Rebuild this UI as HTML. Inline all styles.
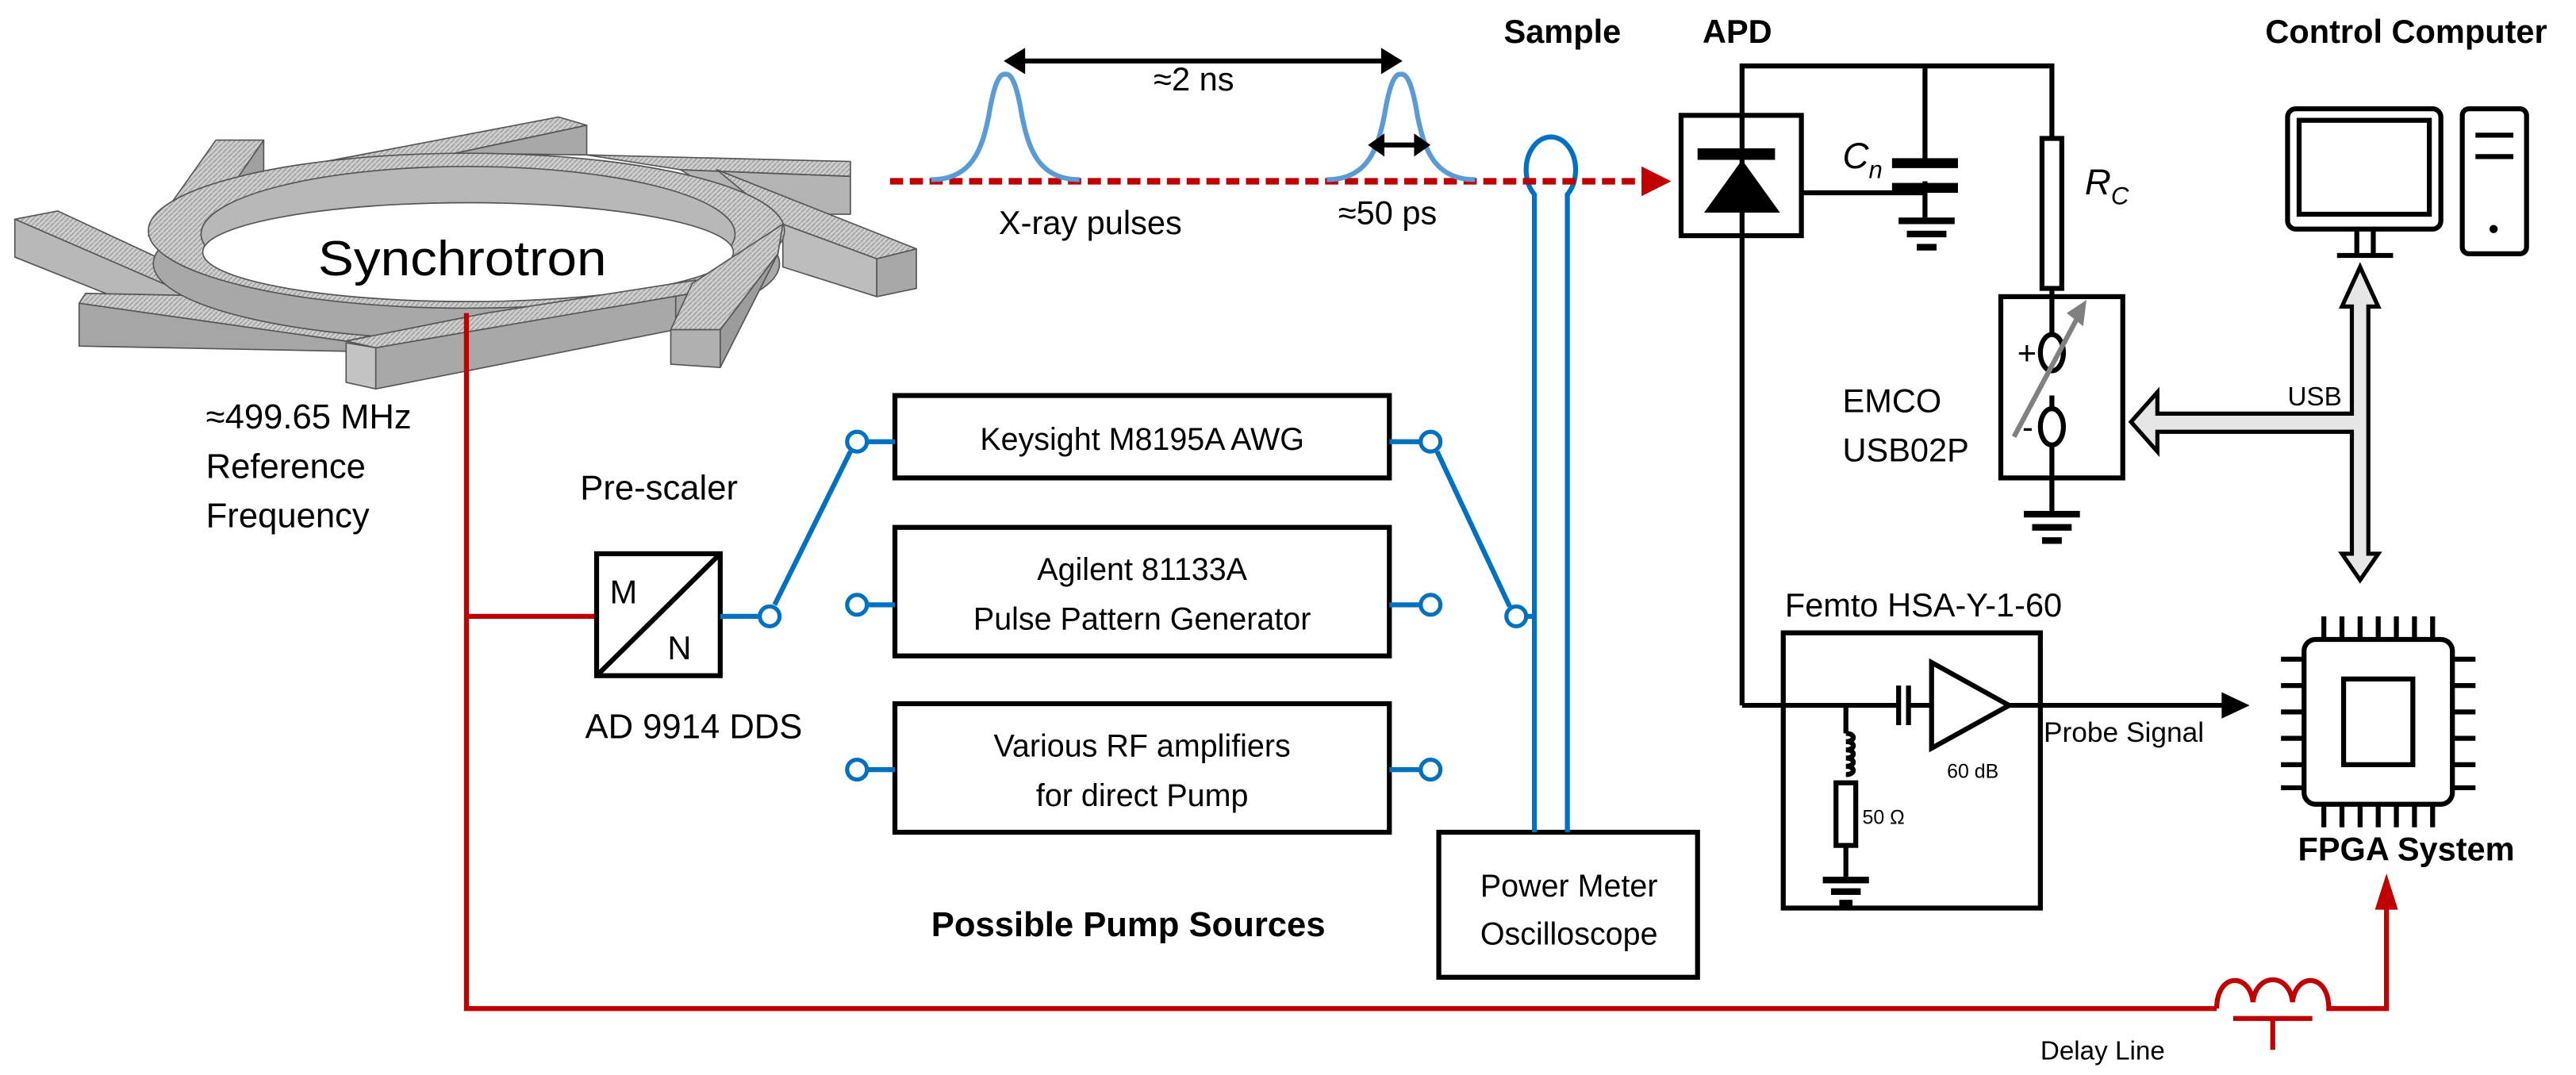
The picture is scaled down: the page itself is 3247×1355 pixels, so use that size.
<!DOCTYPE html>
<html><head><meta charset="utf-8"><style>
html,body{margin:0;padding:0;background:#fff;}
svg{display:block;}
text{font-family:"Liberation Sans",sans-serif;fill:#000;}
</style></head><body>
<svg width="3247" height="1355" viewBox="0 0 1563 652.3" preserveAspectRatio="none" xmlns="http://www.w3.org/2000/svg">
<defs>
<pattern id="hatch" width="3" height="3" patternUnits="userSpaceOnUse"><rect width="3" height="3" fill="#cfcfcf"/><path d="M0 3 L3 0" stroke="#a0a0a0" stroke-width="0.8"/></pattern>
</defs>
<!-- Synchrotron -->
<g stroke="#555" stroke-width="0.8" stroke-linejoin="round">
<!-- arm 2 top -->
<polygon points="356,76 356,94 276,93" fill="#a8a8a8"/>
<polygon points="166,104 339,71 356,76 276,93" fill="url(#hatch)"/>
<!-- arm 3 -->
<polygon points="413,103 516,107 516,130 501,130 435,117" fill="#b4b4b4"/>
<polygon points="356,94 516,98 516,107 413,103" fill="url(#hatch)"/>
<!-- arm 4 -->
<polygon points="475,136 532,157 532,180 475,162" fill="#bdbdbd"/>
<polygon points="532,157 556,151 556,175 532,180" fill="#a8a8a8"/>
<polygon points="435,103 556,151 532,157 475,136" fill="url(#hatch)"/>
<!-- arm 1 -->
<polygon points="160,85 160,107 142,111" fill="#a0a0a0"/>
<polygon points="131,85 160,85 142,111 90,143" fill="url(#hatch)"/>
<!-- arm 8 -->
<polygon points="9,133 9,156 74,182 140,182" fill="#b8b8b8"/>
<polygon points="9,133 35,128 151,182 122,182" fill="url(#hatch)"/>
<!-- arm 7 -->
<polygon points="48,184 255,190 255,214 48,210" fill="#a6a6a6"/>
<polygon points="52,178 150,180 285,191 210,207 48,184" fill="url(#hatch)"/>
<!-- ring -->
<ellipse cx="283" cy="160" rx="190" ry="46" fill="#a8a8a8"/>
<ellipse cx="283" cy="140" rx="193" ry="47" fill="url(#hatch)"/>
<ellipse cx="284" cy="142" rx="162" ry="41" fill="#b8b8b8"/>
<ellipse cx="284" cy="153" rx="161" ry="30" fill="#fff"/>
<!-- arm 6 bottom front -->
<polygon points="228,211 410,176 410,200 228,236" fill="#a8a8a8"/>
<polygon points="210,208 228,211 228,236 210,232" fill="#c4c4c4"/>
<polygon points="210,207 295,190 422,170 420,178 228,211" fill="url(#hatch)"/>
<!-- arm 5 -->
<polygon points="407,200 437,200 437,223 407,221" fill="#b0b0b0"/>
<polygon points="437,200 472,154 437,223" fill="#9c9c9c"/>
<polygon points="420,172 475,136 472,154 437,200 407,200" fill="url(#hatch)"/>
</g>
<text x="193" y="167" font-size="30" textLength="175" lengthAdjust="spacingAndGlyphs">Synchrotron</text>

<!-- red reference line -->
<g stroke="#c00000" stroke-width="3" fill="none">
<polyline points="283,190 283,612 1345,612"/>
<line x1="283" y1="374" x2="362" y2="374"/>
<path d="M1345 612 C1345 590 1365 590 1367 608 C1369 590 1389 590 1391 608 C1393 590 1413 590 1413 612 L1448 612 L1448 548"/>
<line x1="1355" y1="618" x2="1403" y2="618"/>
<line x1="1379" y1="618" x2="1379" y2="637"/>
</g>
<polygon points="1441,552 1455,552 1448,530" fill="#c00000"/>

<!-- labels left -->
<text x="125" y="260" font-size="21">≈499.65 MHz</text>
<text x="125" y="290" font-size="21">Reference</text>
<text x="125" y="320" font-size="21">Frequency</text>
<text x="352" y="303" font-size="21">Pre-scaler</text>
<text x="355" y="448" font-size="21">AD 9914 DDS</text>
<text x="565" y="568" font-size="21" font-weight="bold">Possible Pump Sources</text>
<text x="1238" y="643" font-size="16">Delay Line</text>

<!-- M/N box -->
<g stroke="#000" stroke-width="3" fill="none">
<rect x="362" y="336" width="75" height="74"/>
<line x1="362" y1="410" x2="437" y2="336"/>
</g>
<text x="370" y="366" font-size="20">M</text>
<text x="405" y="400" font-size="20">N</text>

<!-- Pump boxes -->
<g stroke="#000" stroke-width="3" fill="#fff">
<rect x="543" y="240" width="300" height="50"/>
<rect x="543" y="320" width="300" height="78"/>
<rect x="543" y="427" width="300" height="78"/>
<rect x="873" y="505" width="157" height="88"/>
</g>
<text x="693" y="273" font-size="19" text-anchor="middle">Keysight M8195A AWG</text>
<text x="693" y="352" font-size="19" text-anchor="middle">Agilent 81133A</text>
<text x="693" y="382" font-size="19" text-anchor="middle">Pulse Pattern Generator</text>
<text x="693" y="459" font-size="19" text-anchor="middle">Various RF amplifiers</text>
<text x="693" y="489" font-size="19" text-anchor="middle">for direct Pump</text>
<text x="952" y="544" font-size="19" text-anchor="middle">Power Meter</text>
<text x="952" y="573" font-size="19" text-anchor="middle">Oscilloscope</text>

<!-- blue wiring -->
<g stroke="#0070c0" stroke-width="3" fill="none">
<line x1="437" y1="374" x2="461" y2="374"/>
<line x1="470" y1="367" x2="516" y2="274"/>
<line x1="527" y1="268" x2="543" y2="268"/><line x1="527" y1="367" x2="543" y2="367"/><line x1="527" y1="467" x2="543" y2="467"/>
<line x1="843" y1="268" x2="861" y2="268"/><line x1="843" y1="367" x2="861" y2="367"/><line x1="843" y1="467" x2="861" y2="467"/>
<line x1="872" y1="274" x2="916" y2="368"/>
<line x1="927" y1="374" x2="931" y2="374"/>
<path d="M931 505 L931 118 A15 20 0 1 1 951 118 L951 505"/>
</g>
<g stroke="#0070c0" stroke-width="2.5" fill="#fff">
<circle cx="467" cy="374" r="6"/>
<circle cx="520" cy="268" r="6"/><circle cx="520" cy="367" r="6"/><circle cx="520" cy="467" r="6"/>
<circle cx="868" cy="268" r="6"/><circle cx="868" cy="367" r="6"/><circle cx="868" cy="467" r="6"/>
<circle cx="920" cy="374" r="6"/>
</g>

<!-- X-ray beam -->
<line x1="540" y1="110" x2="998" y2="110" stroke="#c00000" stroke-width="4" stroke-dasharray="8,4"/>
<polygon points="996,101 1014,110 996,119" fill="#c00000"/>
<g stroke="#5b9bd5" stroke-width="3" fill="none">
<path d="M565 109 C590 109 596 90 600 70 C604 45 608 45 610 45 C612 45 616 45 620 70 C624 90 630 109 655 109"/>
<path d="M805 109 C830 109 836 90 840 70 C844 45 848 45 850 45 C852 45 856 45 860 70 C864 90 870 109 895 109"/>
</g>
<line x1="618" y1="37" x2="842" y2="37" stroke="#000" stroke-width="3"/>
<polygon points="609,37 622,29 622,45" fill="#000"/><polygon points="851,37 838,29 838,45" fill="#000"/>
<line x1="835" y1="88" x2="863" y2="88" stroke="#000" stroke-width="3"/>
<polygon points="830,88 840,81 840,95" fill="#000"/><polygon points="868,88 858,81 858,95" fill="#000"/>
<text x="700" y="55" font-size="20">≈2 ns</text>
<text x="812" y="136" font-size="20">≈50 ps</text>
<text x="606" y="142" font-size="20">X-ray pulses</text>

<text x="948" y="26" font-size="20" font-weight="bold" text-anchor="middle">Sample</text>
<text x="1033" y="26" font-size="20" font-weight="bold">APD</text>
<text x="1460" y="26" font-size="20" font-weight="bold" text-anchor="middle">Control Computer</text>

<!-- APD circuit -->
<g stroke="#000" stroke-width="3" fill="none">
<rect x="1020" y="70" width="73" height="73"/>
<polyline points="1057,428 1057,40 1245,40 1245,84"/>
<line x1="1168" y1="40" x2="1168" y2="98"/>
<line x1="1093" y1="117" x2="1168" y2="117"/>
<line x1="1168" y1="110" x2="1168" y2="132"/>
<line x1="1245" y1="175" x2="1245" y2="230"/>
<rect x="1239" y="84" width="12" height="91" fill="#fff"/>
<rect x="1214" y="180" width="74" height="110" fill="#fff"/>
<line x1="1245" y1="240" x2="1245" y2="310"/>
</g>
<g fill="#000">
<rect x="1030" y="90" width="47" height="7"/>
<polygon points="1057,97 1034,129 1080,129"/>
<rect x="1148" y="96" width="40" height="6"/><rect x="1148" y="111" width="40" height="6"/>
<rect x="1152" y="132" width="34" height="4"/><rect x="1157" y="140" width="24" height="4"/><rect x="1163" y="148" width="12" height="4"/>
<rect x="1228" y="310" width="34" height="4"/><rect x="1233" y="318" width="24" height="4"/><rect x="1239" y="326" width="12" height="4"/>
</g>
<g stroke="#000" stroke-width="3" fill="#fff">
<ellipse cx="1245" cy="214" rx="7" ry="11"/>
<ellipse cx="1245" cy="259" rx="7" ry="11"/>
</g>
<line x1="1245" y1="180" x2="1245" y2="203" stroke="#000" stroke-width="3"/>
<line x1="1222" y1="265" x2="1262" y2="190" stroke="#808080" stroke-width="3"/>
<polygon points="1266,182 1254,190 1264,198" fill="#808080"/>
<text x="1224" y="221" font-size="20">+</text>
<text x="1227" y="266" font-size="20">-</text>
<text x="1118" y="102" font-size="22" font-style="italic" font-family="Liberation Serif">C<tspan font-size="15" dy="6">n</tspan></text>
<text x="1265" y="118" font-size="22" font-style="italic" font-family="Liberation Serif">R<tspan font-size="15" dy="6">C</tspan></text>
<text x="1118" y="250" font-size="20">EMCO</text>
<text x="1118" y="280" font-size="20">USB02P</text>

<!-- Computer -->
<g stroke="#000" stroke-width="3" fill="none">
<rect x="1388" y="66" width="93" height="73" rx="5"/>
<rect x="1395" y="73" width="79" height="57"/>
<line x1="1430" y1="139" x2="1430" y2="154"/><line x1="1440" y1="139" x2="1440" y2="154"/>
<line x1="1418" y1="155" x2="1452" y2="155"/>
<rect x="1494" y="66" width="39" height="88" rx="4"/>
<line x1="1502" y1="82" x2="1525" y2="82"/><line x1="1502" y1="95" x2="1525" y2="95"/>
</g>
<circle cx="1513" cy="139" r="2.5" fill="#000"/>
<!-- USB hollow arrows -->
<path d="M1432 162 L1443 186 L1437 186 L1437 336 L1443 336 L1432 352 L1421 336 L1427 336 L1427 262 L1309 262 L1309 274 L1293 256 L1309 238 L1309 251 L1427 251 L1427 186 L1421 186 Z" fill="#e6e6e6" stroke="#000" stroke-width="2.5"/>
<text x="1388" y="246" font-size="16">USB</text>

<!-- Femto -->
<rect x="1082" y="384" width="156" height="167" fill="none" stroke="#000" stroke-width="3"/>
<text x="1083" y="374" font-size="20">Femto HSA-Y-1-60</text>
<g stroke="#000" stroke-width="3" fill="none">
<line x1="1057" y1="428" x2="1152" y2="428"/>
<line x1="1152" y1="416" x2="1152" y2="440"/><line x1="1158" y1="416" x2="1158" y2="440"/>
<line x1="1158" y1="428" x2="1172" y2="428"/>
<polygon points="1172,402 1172,454 1219,428"/>
<line x1="1219" y1="428" x2="1350" y2="428"/>
<line x1="1120" y1="428" x2="1120" y2="445"/>
<path d="M1120 445 c6 0 6 5 0 5 c6 0 6 5 0 5 c6 0 6 5 0 5 c6 0 6 5 0 5 c6 0 6 5 0 5"/>
<rect x="1114" y="475" width="12" height="38"/>
<line x1="1120" y1="513" x2="1120" y2="532"/>
</g>
<polygon points="1348,420 1365,428 1348,436" fill="#000"/>
<g fill="#000"><rect x="1106" y="532" width="28" height="4"/><rect x="1111" y="539" width="18" height="4"/><rect x="1116" y="546" width="8" height="4"/></g>
<text x="1197" y="472" font-size="12" text-anchor="middle">60 dB</text>
<text x="1130" y="500" font-size="12">50 Ω</text>
<text x="1240" y="450" font-size="17">Probe Signal</text>

<!-- FPGA -->
<g stroke="#000" stroke-width="3" fill="none">
<rect x="1398" y="388" width="90" height="100" rx="7"/>
<rect x="1422" y="412" width="42" height="52"/>
<path d="M1410 388v-14 M1421 388v-14 M1432 388v-14 M1443 388v-14 M1454 388v-14 M1465 388v-14 M1476 388v-14
M1410 488v14 M1421 488v14 M1432 488v14 M1443 488v14 M1454 488v14 M1465 488v14 M1476 488v14
M1398 400h-14 M1398 416h-14 M1398 432h-14 M1398 448h-14 M1398 464h-14 M1398 478h-14
M1488 400h14 M1488 416h14 M1488 432h14 M1488 448h14 M1488 464h14 M1488 478h14"/>
</g>
<text x="1460" y="522" font-size="20" font-weight="bold" text-anchor="middle">FPGA System</text>
</svg>
</body></html>
